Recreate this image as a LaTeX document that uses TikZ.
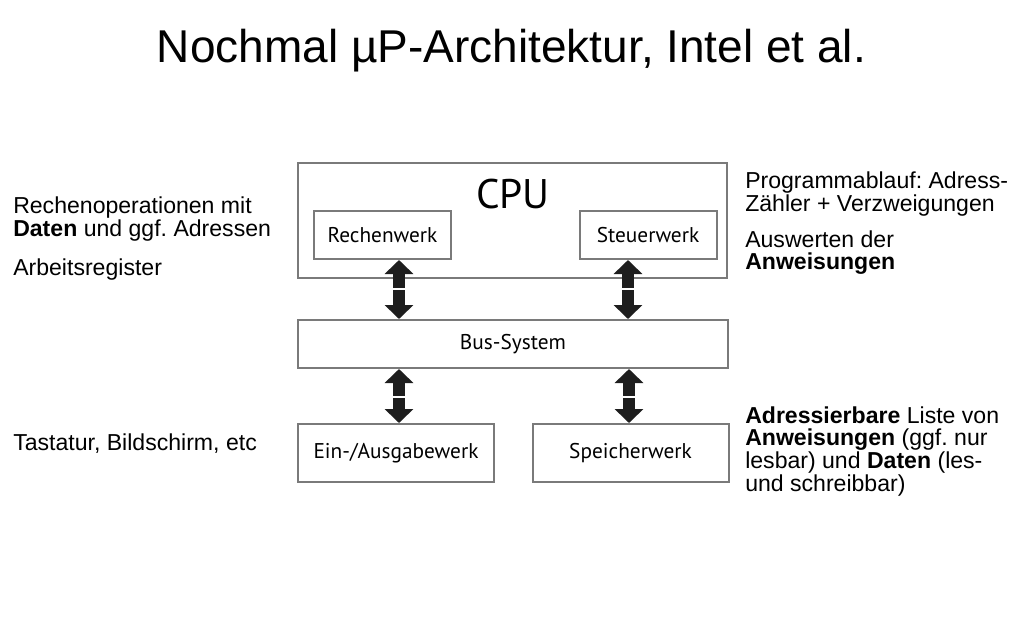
\documentclass[tikz,border=0pt]{standalone}
\usepackage{fontspec}
\setmainfont{Liberation Sans}
\newfontfamily\boxfont{PT Sans}
\usetikzlibrary{arrows.meta,positioning}
\frenchspacing
\definecolor{boxgray}{HTML}{7A7A7A}
\definecolor{arrowblack}{HTML}{1E1E1E}
\tikzstyle{Abox}=[draw=boxgray,line width=1.5pt,inner sep=0,
                font=\boxfont\fontsize{16pt}{19pt}\selectfont]
\tikzstyle{Anote}=[anchor=north west,inner sep=0,align=left,
                font=\fontsize{17.3pt}{16.1pt}\selectfont]
\tikzstyle{busarrow}=[draw=arrowblack,line width=9pt,shorten <=1.1pt,
                -{Triangle[length=10.5pt,width=21pt]}]
\begin{document}
\begin{tikzpicture}[x=0.75pt,y=-0.75pt]
  \useasboundingbox (0,0) rectangle (1024,640);
  % title
  \node[anchor=base,inner sep=0,font=\fontsize{34.5pt}{40pt}\selectfont] (title) at (511.5,62)
    {Nochmal µP-Architektur, Intel et al.};
  % boxes
  \node[Abox,minimum width=321.75pt,minimum height=86.25pt] (cpu) at (512.5,220) {};
  \node[anchor=base,inner sep=0,font=\boxfont\fontsize{31pt}{34pt}\selectfont] (cpu_l) at (513,208) {CPU};
  \node[Abox,minimum width=102.75pt,minimum height=36pt] (rw) at (382.5,235) {Rechenwerk};
  \node[Abox,minimum width=102.75pt,minimum height=36pt] (sw) at (648,235) {Steuerwerk};
  \node[Abox,minimum width=322.5pt,minimum height=36pt] (bus) at (513,344) {Bus-System};
  \node[Abox,minimum width=147pt,minimum height=43.5pt] (ea) at (396,453) {Ein-/Ausgabewerk};
  \node[Abox,minimum width=147pt,minimum height=43.5pt] (sp) at (630.5,453) {Speicherwerk};
  % arrows
  \coordinate (m_1) at (399,289);
  \coordinate (m_2) at (628,289);
  \coordinate (m_3) at (399,397);
  \coordinate (m_4) at (629,397);
  \draw[busarrow] (m_1) -- (m_1 |- rw.south);
  \draw[busarrow] (m_1) -- (m_1 |- bus.north);
  \draw[busarrow] (m_2) -- (m_2 |- sw.south);
  \draw[busarrow] (m_2) -- (m_2 |- bus.north);
  \draw[busarrow] (m_3) -- (m_3 |- bus.south);
  \draw[busarrow] (m_3) -- (m_3 |- ea.north);
  \draw[busarrow] (m_4) -- (m_4 |- bus.south);
  \draw[busarrow] (m_4) -- (m_4 |- sp.north);
  % notes
  \node[Anote] (n_rw) at (13,197) {Rechenoperationen mit\\\textbf{Daten} und ggf. Adressen};
  \node[Anote] (n_reg) at (13,259) {Arbeitsregister};
  \node[Anote] (n_ea) at (13,434) {Tastatur, Bildschirm, etc};
  \node[Anote] (n_sw) at (745,172) {Programmablauf: Adress-\\Zähler + Verzweigungen};
  \node[Anote] (n_an) at (745,231) {Auswerten der\\\textbf{Anweisungen}};
  \node[Anote] (n_sp) at (745,407) {\textbf{Adressierbare} Liste von\\\textbf{Anweisungen} (ggf. nur\\lesbar) und \textbf{Daten} (les-\\und schreibbar)};
\end{tikzpicture}
\end{document}
